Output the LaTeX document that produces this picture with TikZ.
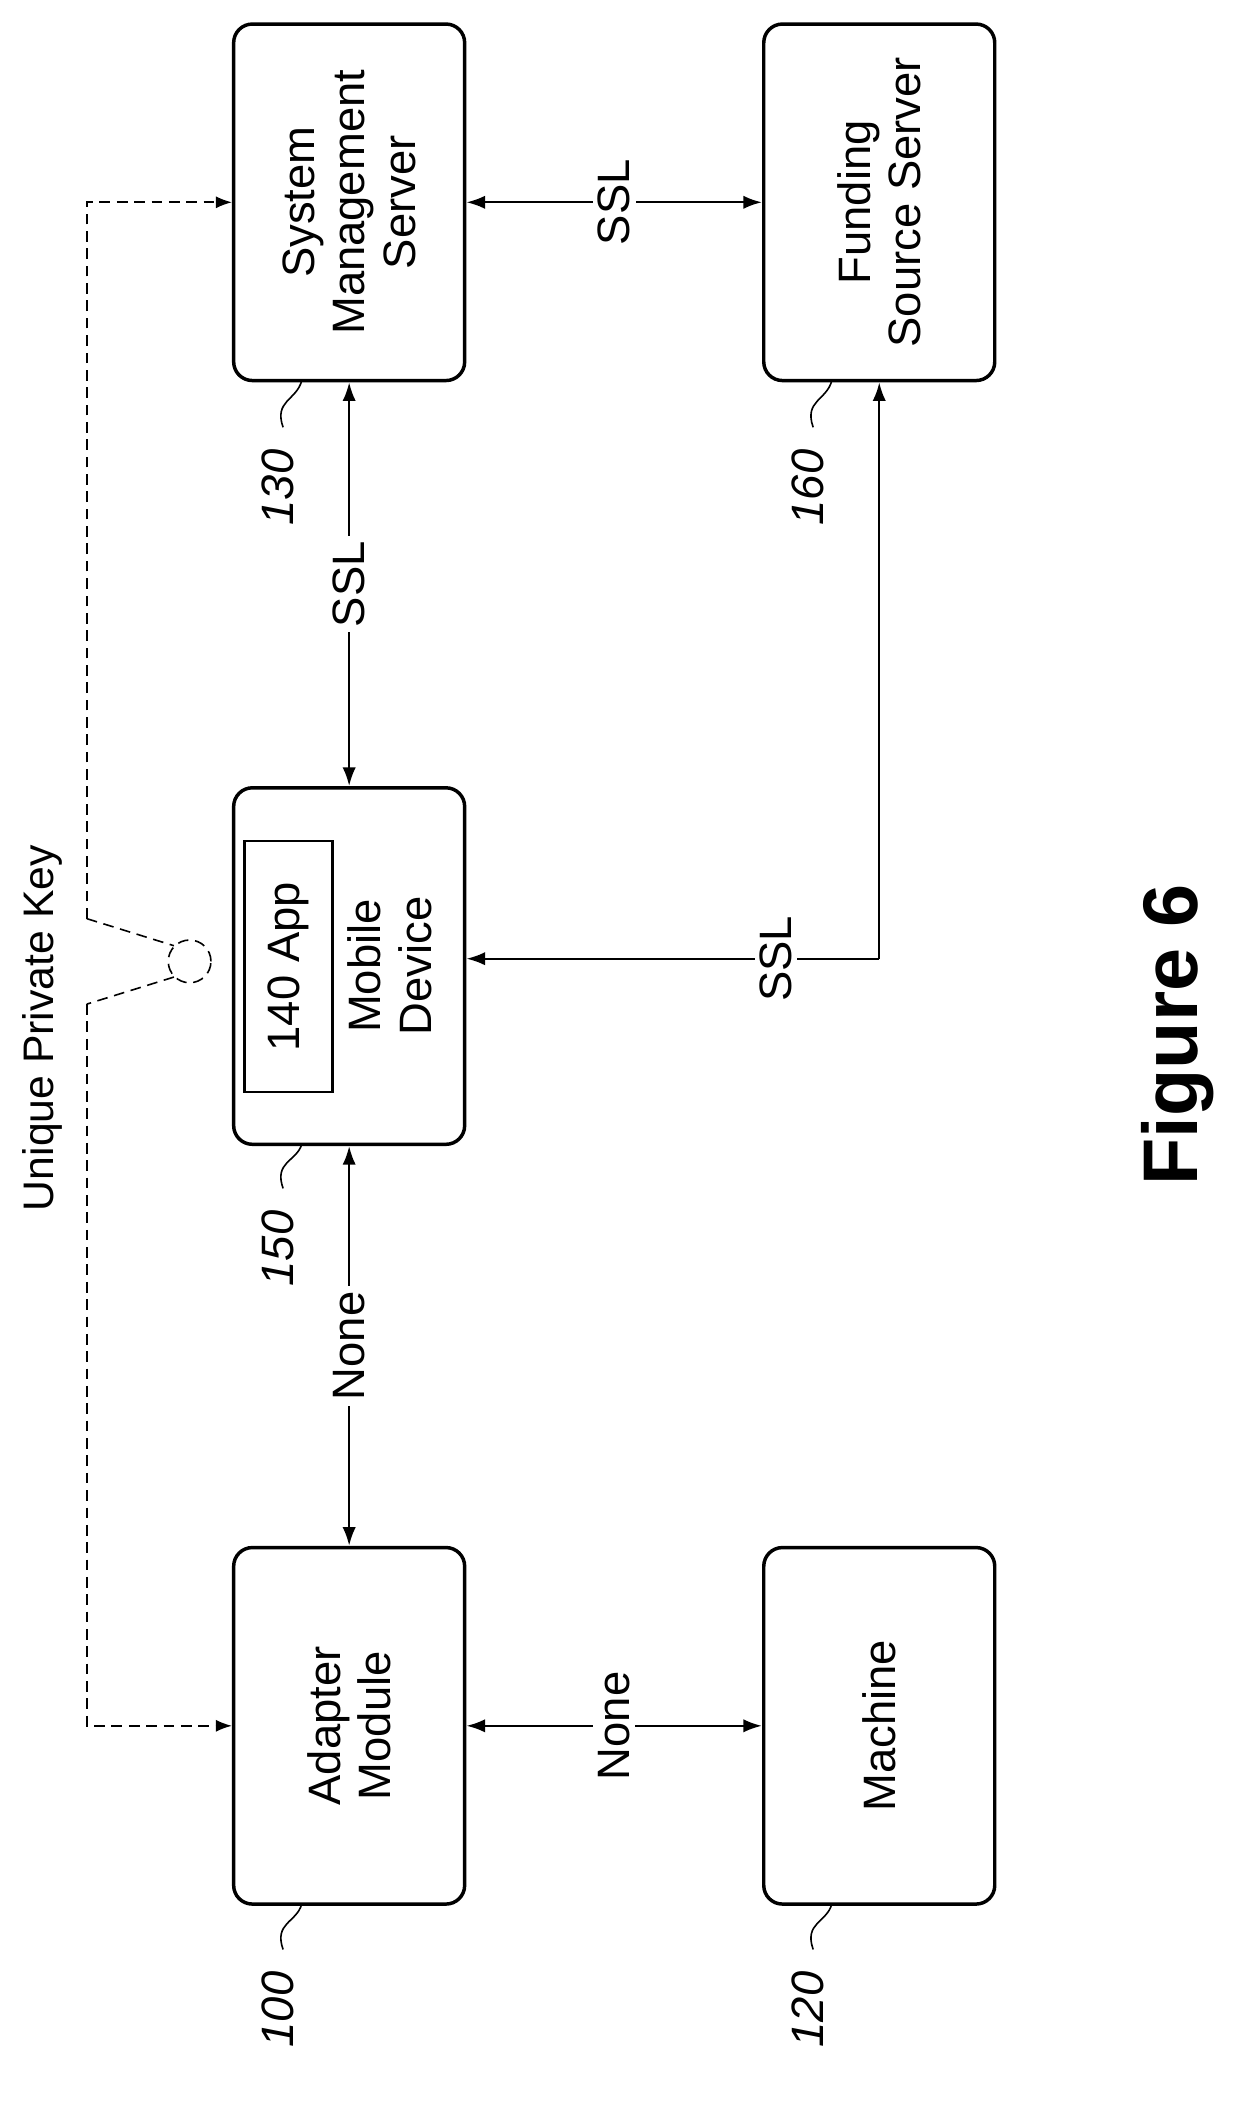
\documentclass[tikz,border=0pt]{standalone}
\usepackage{fontspec}
\setmainfont{Liberation Sans}
\usetikzlibrary{arrows.meta}
\begin{document}
\begin{tikzpicture}[x=1pt,y=-1pt,
  box/.style={draw,line width=2.6pt,rounded corners=14pt,minimum width=173pt,minimum height=267pt,inner sep=0},
  txt/.style={rotate=90,font=\fontsize{34}{38}\selectfont,align=center},
  arr/.style={line width=1.8pt,{Latex[length=14pt,width=10pt]}-{Latex[length=14pt,width=10pt]}},
  one/.style={line width=1.8pt,-{Latex[length=14pt,width=10pt]}},
  lab/.style={rotate=90,fill=white,inner sep=4pt,font=\fontsize{34}{38}\selectfont},
  ref/.style={rotate=90,font=\fontsize{34}{38}\selectfont\itshape},
  dsh/.style={line width=1.2pt,dash pattern=on 8pt off 5pt}]
\useasboundingbox (0,0) rectangle (938,1575);
\node[box] (sms) at (261.5,151.5) {};
\node[txt] at (sms) {System\\Management\\Server};
\node[box] (fss) at (658.5,151.5) {};
\node[txt] at (fss) {Funding\\Source Server};
\node[box] (md) at (261.5,723.5) {};
\node[txt] at (292,723.5) {Mobile\\Device};
\node[draw,line width=1.8pt,minimum width=66pt,minimum height=188pt,inner sep=0] (app) at (216,724) {};
\node[txt] at (app) {140 App};
\node[box] (am) at (261.5,1292.5) {};
\node[txt] at (am) {Adapter\\Module};
\node[box] (mc) at (658.5,1292.5) {};
\node[txt] at (mc) {Machine};
% connectors
\draw[arr] (sms.east) -- node[lab]{SSL} (fss.west);
\draw[arr] (sms.south) -- node[lab]{SSL} (md.north);
\draw[arr] (md.south) -- node[lab]{None} (am.north);
\draw[arr] (am.east) -- node[lab]{None} (mc.west);
\coordinate (c1) at (658.5,718);
\draw[one] (c1) -- (fss.south);
\draw[one] (c1) -- node[lab,pos=0.25]{SSL} (md.east |- c1);
% dashed key path
\coordinate (d1) at (65,151.5);
\coordinate (d2) at (65,688);
\coordinate (d3) at (65,752);
\coordinate (d4) at (65,1292.5);
\node[draw,circle,dsh,minimum size=32pt,inner sep=0] (key) at (142,720) {};
\draw[dsh,-{Latex[length=12pt,width=9pt]}] (d2) -- (d1) -- (sms.west);
\draw[dsh] (d2) -- (key.north west);
\draw[dsh] (key.south west) -- (d3);
\draw[dsh,-{Latex[length=12pt,width=9pt]}] (d3) -- (d4) -- (am.west);
\node[rotate=90,font=\fontsize{32}{36}\selectfont] (upk) at (32,770) {Unique Private Key};
% reference numerals
\node[ref] (r130) at (208,365) {130};
\draw[line width=1.2pt] (212,320) .. controls (205,300) and (222,300) .. (226,285);
\node[ref] (r160) at (605,365) {160};
\draw[line width=1.2pt] (609,320) .. controls (602,300) and (619,300) .. (623,285);
\node[ref] (r150) at (208,935) {150};
\draw[line width=1.2pt] (212,890) .. controls (205,870) and (222,870) .. (226,857);
\node[ref] (r100) at (208,1505) {100};
\draw[line width=1.2pt] (212,1460) .. controls (205,1440) and (222,1440) .. (226,1426);
\node[ref] (r120) at (605,1505) {120};
\draw[line width=1.2pt] (609,1460) .. controls (602,1440) and (619,1440) .. (623,1426);
\node[rotate=90,font=\fontsize{58}{62}\selectfont\bfseries] (fig) at (882,775) {Figure 6};
\end{tikzpicture}
\end{document}
